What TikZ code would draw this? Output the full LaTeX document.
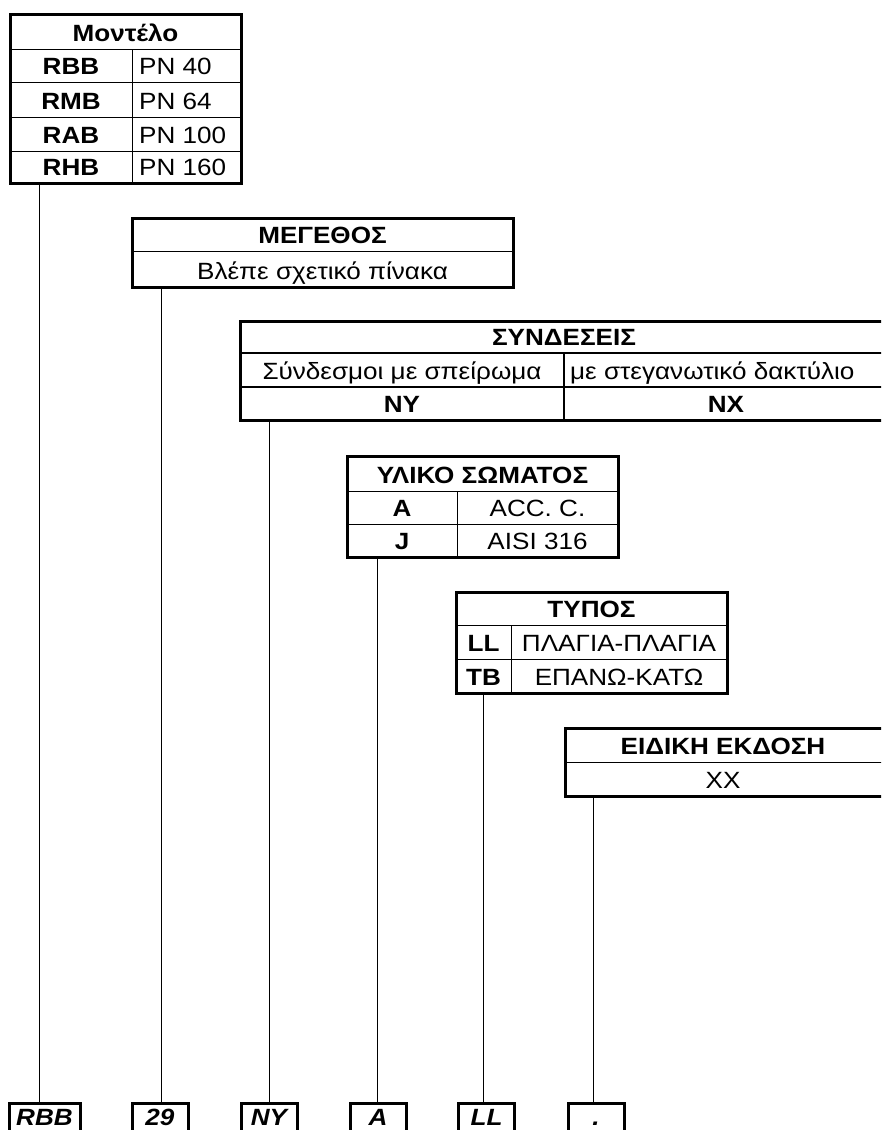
\documentclass[tikz,border=0pt]{standalone}
\usepackage{fontspec}
\setmainfont{Liberation Sans}[FakeStretch=1.11]
\newcommand{\tabfont}{\fontsize{23.5}{27}\selectfont}
\tikzstyle{tabframe} = [line width=3pt]
\tikzstyle{tabrule} = [line width=1pt]
\tikzstyle{txt} = [inner sep=0pt, anchor=base]
\tikzstyle{hd} = [txt, font=\tabfont\bfseries]
\tikzstyle{leader} = [line width=1pt]
\tikzstyle{codebox} = [draw, line width=3pt, minimum width=56pt, minimum height=36pt,
                       inner sep=0pt, text height=16.5pt, text depth=7pt,
                       font=\tabfont\bfseries\itshape]

\begin{document}
\begin{tikzpicture}[x=1pt, y=-1pt, font=\tabfont]
    \clip (0,0) rectangle (881,1130);

    % Model table
    \foreach \y in {49,82,117,151} \draw[tabrule] (10,\y) -- (241,\y);
    \draw[tabrule] (132,49) -- (132,183);
    \draw[tabframe] (10,14) rectangle (241,183);
    \node[hd] (model) at (125.5,41.5) {Μοντέλο};
    \node[hd] (rbb) at (71,74.5) {RBB};
    \node[hd] (rmb) at (71,109.5) {RMB};
    \node[hd] (rab) at (71,143.5) {RAB};
    \node[hd] (rhb) at (71,175.5) {RHB};
    \node[txt, anchor=base west] (pn40) at (139,74.5) {PN 40};
    \node[txt, anchor=base west] (pn64) at (139,109.5) {PN 64};
    \node[txt, anchor=base west] (pn100) at (139,143.5) {PN 100};
    \node[txt, anchor=base west] (pn160) at (139,175.5) {PN 160};
    \coordinate (model-out) at (39,183);

    % Size table
    \draw[tabrule] (132,251) -- (513,251);
    \draw[tabframe] (132,218) rectangle (513,287);
    \node[hd] (size) at (322.5,243.5) {ΜΕΓΕΘΟΣ};
    \node[txt] (size-see) at (322.5,279.5) {Βλέπε σχετικό πίνακα};
    \coordinate (size-out) at (161,287);

    % Connections table
    \draw[tabframe, line width=2pt] (240,353) -- (890,353);
    \draw[tabframe, line width=2pt] (240,387) -- (890,387);
    \draw[tabframe, line width=2pt] (564,353) -- (564,420);
    \draw[tabframe] (240,321) rectangle (890,420);
    \node[hd] (conn) at (564,345.5) {ΣΥΝΔΕΣΕΙΣ};
    \node[txt] (conn-thr) at (402,379.5) {Σύνδεσμοι με σπείρωμα};
    \node[txt, anchor=base west] (conn-ring) at (570,379.5) {με στεγανωτικό δακτύλιο};
    \node[hd] (ny) at (402,412.5) {NY};
    \node[hd] (nx) at (726,412.5) {NX};
    \coordinate (conn-out) at (269,420);

    % Body material table
    \foreach \y in {491,524} \draw[tabrule] (347,\y) -- (618,\y);
    \draw[tabrule] (457,491) -- (457,557);
    \draw[tabframe] (347,456) rectangle (618,557);
    \node[hd] (body) at (482.5,483.5) {ΥΛΙΚΟ ΣΩΜΑΤΟΣ};
    \node[hd] (mat-a) at (402,516.5) {A};
    \node[hd] (mat-j) at (402,549.5) {J};
    \node[txt] (acc) at (537.5,516.5) {ACC. C.};
    \node[txt] (aisi) at (537.5,549.5) {AISI 316};
    \coordinate (body-out) at (377,557);

    % Type table
    \foreach \y in {625,659} \draw[tabrule] (456,\y) -- (727,\y);
    \draw[tabrule] (511,625) -- (511,693);
    \draw[tabframe] (456,592) rectangle (727,693);
    \node[hd] (type) at (591.5,617.5) {ΤΥΠΟΣ};
    \node[hd] (ll) at (483.5,651.5) {LL};
    \node[hd] (tb) at (483.5,685.5) {TB};
    \node[txt] (side) at (619,651.5) {ΠΛΑΓΙΑ-ΠΛΑΓΙΑ};
    \node[txt] (updown) at (619,685.5) {ΕΠΑΝΩ-ΚΑΤΩ};
    \coordinate (type-out) at (483,693);

    % Special version table
    \draw[tabrule] (565,762) -- (886,762);
    \draw[tabframe] (565,728) rectangle (886,796);
    \node[hd] (spec) at (723,754.5) {ΕΙΔΙΚΗ ΕΚΔΟΣΗ};
    \node[txt] (spec-xx) at (723,788.5) {XX};
    \coordinate (spec-out) at (593,796);

    % Code boxes
    \node[codebox, minimum width=71pt] (c-model) at (44.5,1121) {RBB};
    \node[codebox] (c-size) at (160,1121) {29};
    \node[codebox] (c-conn) at (269,1121) {NY};
    \node[codebox] (c-body) at (378,1121) {A};
    \node[codebox] (c-type) at (486.5,1121) {LL};
    \node[codebox] (c-spec) at (596,1121) {.};

    % Leaders
    \draw[leader] (model-out) -- (model-out |- c-model.north);
    \draw[leader] (size-out) -- (size-out |- c-size.north);
    \draw[leader] (conn-out) -- (conn-out |- c-conn.north);
    \draw[leader] (body-out) -- (body-out |- c-body.north);
    \draw[leader] (type-out) -- (type-out |- c-type.north);
    \draw[leader] (spec-out) -- (spec-out |- c-spec.north);
\end{tikzpicture}
\end{document}
